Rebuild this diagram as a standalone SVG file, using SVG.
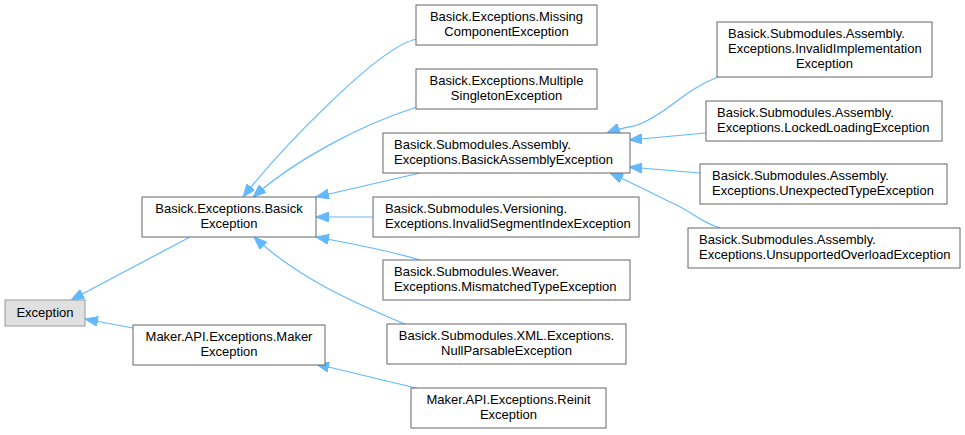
<svg xmlns="http://www.w3.org/2000/svg" width="965" height="435" viewBox="0 0 965 435">
<style>
.n rect{fill:#fff;stroke:#666;stroke-width:1}
.root rect{fill:#e0e0e0;stroke:#999}
text{font-family:"Liberation Sans",Arial,sans-serif;font-size:13px;fill:#000}
.c{text-anchor:middle}
.e path{fill:none;stroke:#63b8ff;stroke-width:1.2;marker-end:url(#ah)}
</style>
<defs>
<marker id="ah" viewBox="0 0 13 10" refX="13" refY="5" markerUnits="userSpaceOnUse" markerWidth="13" markerHeight="10" orient="auto">
<path d="M0,0 L13,5 L0,10 z" fill="#63b8ff" stroke="#63b8ff" stroke-width="1"/>
</marker>
</defs>
<rect width="965" height="435" fill="#fff"/>
<g class="e" id="connectors">
<path d="M190,237 L71,300"/>
<path d="M133,328 L85,319"/>
<path d="M420,389 L316,364"/>
<path d="M407,325 C360,305 300,280 254,237"/>
<path d="M420,260 C400,254 360,245 316,237"/>
<path d="M373,217 L316,217"/>
<path d="M420,173 L316,197"/>
<path d="M417,107 C360,125 295,160 253,197"/>
<path d="M417,39 C380,45 280,150 243,197"/>
<path d="M720,76 C680,92 670,112 640,124 C630,128 622,127 607,133"/>
<path d="M706,133 L629,140"/>
<path d="M700,173 L629,167"/>
<path d="M720,228 C700,222 690,210 670,202 C650,192 630,182 610,173"/>
</g>
<g class="n root" id="exception"><rect x="5" y="300" width="80" height="26"/><text class="c" x="45" y="317">Exception</text></g>
<g class="n" id="basickException"><rect x="142" y="197" width="174" height="40"/><text class="c" x="229" y="213">Basick.Exceptions.Basick</text><text class="c" x="229" y="228">Exception</text></g>
<g class="n" id="makerException"><rect x="133" y="325" width="192" height="40"/><text class="c" x="229" y="341">Maker.API.Exceptions.Maker</text><text class="c" x="229" y="356">Exception</text></g>
<g class="n" id="missingComponent"><rect x="416" y="5" width="181" height="40"/><text class="c" x="506.5" y="21">Basick.Exceptions.Missing</text><text class="c" x="506.5" y="36">ComponentException</text></g>
<g class="n" id="multipleSingleton"><rect x="416" y="69" width="181" height="40"/><text class="c" x="506.5" y="85">Basick.Exceptions.Multiple</text><text class="c" x="506.5" y="100">SingletonException</text></g>
<g class="n" id="basickAssembly"><rect x="383" y="133" width="247" height="40"/><text x="394" y="149">Basick.Submodules.Assembly.</text><text x="394" y="164">Exceptions.BasickAssemblyException</text></g>
<g class="n" id="invalidSegment"><rect x="373" y="197" width="266" height="40"/><text x="385" y="213">Basick.Submodules.Versioning.</text><text x="385" y="228">Exceptions.InvalidSegmentIndexException</text></g>
<g class="n" id="mismatchedType"><rect x="383" y="260" width="247" height="40"/><text x="394" y="276">Basick.Submodules.Weaver.</text><text x="394" y="291">Exceptions.MismatchedTypeException</text></g>
<g class="n" id="nullParsable"><rect x="387" y="324" width="239" height="40"/><text class="c" x="506.5" y="340">Basick.Submodules.XML.Exceptions.</text><text class="c" x="506.5" y="355">NullParsableException</text></g>
<g class="n" id="reinit"><rect x="411" y="388" width="195" height="40"/><text class="c" x="508.5" y="404">Maker.API.Exceptions.Reinit</text><text class="c" x="508.5" y="419">Exception</text></g>
<g class="n" id="invalidImplementation"><rect x="717" y="22" width="215" height="55"/><text x="728" y="38">Basick.Submodules.Assembly.</text><text x="728" y="53">Exceptions.InvalidImplementation</text><text class="c" x="824.5" y="68">Exception</text></g>
<g class="n" id="lockedLoading"><rect x="706" y="101" width="236" height="40"/><text x="717" y="117">Basick.Submodules.Assembly.</text><text x="717" y="132">Exceptions.LockedLoadingException</text></g>
<g class="n" id="unexpectedType"><rect x="700" y="164" width="247" height="40"/><text x="712" y="180">Basick.Submodules.Assembly.</text><text x="712" y="195">Exceptions.UnexpectedTypeException</text></g>
<g class="n" id="unsupportedOverload"><rect x="688" y="228" width="272" height="40"/><text x="699" y="244">Basick.Submodules.Assembly.</text><text x="699" y="259">Exceptions.UnsupportedOverloadException</text></g>
</svg>
